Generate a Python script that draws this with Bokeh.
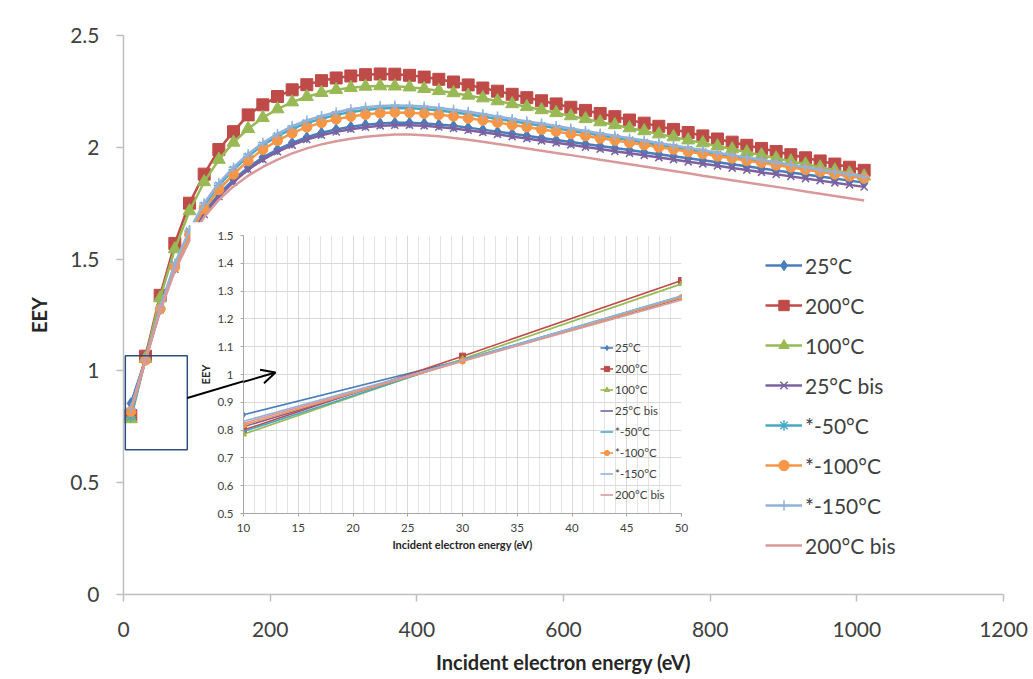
from bokeh.plotting import figure
from bokeh.models import (ColumnDataSource, Legend, LegendItem, FixedTicker,
                          NumeralTickFormatter, BoxAnnotation, Arrow, OpenHead, Range1d)
from bokeh.embed import file_html
from bokeh.resources import INLINE

energy = [10, 30, 50, 70, 90, 110, 130, 150, 170, 190, 210, 230, 250, 270, 290, 310, 330,
          350, 370, 390, 410, 430, 450, 470, 490, 510, 530, 550, 570, 590, 610, 630, 650,
          670, 690, 710, 730, 750, 770, 790, 810, 830, 850, 870, 890, 910, 930, 950, 970,
          990, 1010]

eey_25c = [0.855, 1.052, 1.276, 1.46, 1.60, 1.71, 1.79, 1.855, 1.91, 1.955, 1.99, 2.02, 2.045,
           2.065, 2.08, 2.092, 2.101, 2.107, 2.110, 2.110, 2.107, 2.102, 2.096, 2.088, 2.079,
           2.070, 2.061, 2.052, 2.042, 2.033, 2.024, 2.015, 2.006, 1.997, 1.988, 1.978, 1.969,
           1.960, 1.951, 1.942, 1.933, 1.924, 1.915, 1.905, 1.896, 1.887, 1.878, 1.869, 1.860,
           1.851, 1.842]
eey_200c = [0.80, 1.066, 1.338, 1.57, 1.75, 1.88, 1.99, 2.07, 2.145, 2.19, 2.227, 2.257, 2.28,
            2.298, 2.31, 2.319, 2.325, 2.328, 2.327, 2.322, 2.314, 2.304, 2.292, 2.279, 2.265,
            2.251, 2.237, 2.222, 2.208, 2.194, 2.179, 2.165, 2.151, 2.137, 2.122, 2.108, 2.094,
            2.080, 2.066, 2.051, 2.037, 2.023, 2.009, 1.995, 1.981, 1.967, 1.953, 1.939, 1.925,
            1.911, 1.897]
eey_100c = [0.785, 1.056, 1.326, 1.545, 1.715, 1.845, 1.945, 2.022, 2.083, 2.132, 2.171, 2.202,
            2.226, 2.244, 2.257, 2.266, 2.272, 2.274, 2.273, 2.269, 2.262, 2.253, 2.243, 2.232,
            2.220, 2.207, 2.194, 2.181, 2.167, 2.154, 2.140, 2.127, 2.113, 2.100, 2.086, 2.073,
            2.059, 2.046, 2.032, 2.019, 2.005, 1.992, 1.978, 1.965, 1.951, 1.938, 1.924, 1.911,
            1.897, 1.884, 1.871]
eey_25c_bis = [0.812, 1.05, 1.274, 1.455, 1.595, 1.70, 1.78, 1.845, 1.90, 1.945, 1.98, 2.01,
               2.035, 2.054, 2.069, 2.081, 2.09, 2.096, 2.099, 2.099, 2.096, 2.091, 2.084, 2.076,
               2.067, 2.058, 2.048, 2.039, 2.029, 2.020, 2.011, 2.001, 1.992, 1.982, 1.973, 1.964,
               1.954, 1.945, 1.935, 1.926, 1.917, 1.907, 1.898, 1.888, 1.879, 1.870, 1.860, 1.851,
               1.841, 1.832, 1.823]
eey_m50c = [0.795, 1.052, 1.282, 1.475, 1.625, 1.74, 1.83, 1.90, 1.96, 2.01, 2.05, 2.083, 2.108,
            2.128, 2.145, 2.158, 2.167, 2.173, 2.176, 2.175, 2.171, 2.165, 2.157, 2.148, 2.138,
            2.127, 2.117, 2.106, 2.096, 2.085, 2.074, 2.064, 2.053, 2.043, 2.032, 2.021, 2.011,
            2.000, 1.990, 1.979, 1.968, 1.958, 1.947, 1.937, 1.926, 1.915, 1.905, 1.894, 1.884,
            1.873, 1.862]
eey_m100c = [0.818, 1.048, 1.277, 1.465, 1.61, 1.725, 1.81, 1.88, 1.94, 1.99, 2.03, 2.063, 2.09,
             2.11, 2.126, 2.138, 2.147, 2.153, 2.156, 2.155, 2.151, 2.146, 2.139, 2.130, 2.121,
             2.111, 2.100, 2.091, 2.080, 2.071, 2.060, 2.051, 2.040, 2.031, 2.020, 2.011, 2.000,
             1.991, 1.980, 1.971, 1.960, 1.951, 1.940, 1.931, 1.920, 1.911, 1.900, 1.891, 1.880,
             1.871, 1.861]
eey_m150c = [0.832, 1.05, 1.282, 1.48, 1.63, 1.75, 1.84, 1.91, 1.97, 2.02, 2.06, 2.095, 2.12,
             2.14, 2.157, 2.17, 2.179, 2.185, 2.187, 2.186, 2.182, 2.176, 2.168, 2.159, 2.149,
             2.138, 2.127, 2.116, 2.106, 2.095, 2.084, 2.073, 2.062, 2.052, 2.041, 2.030, 2.019,
             2.008, 1.998, 1.987, 1.976, 1.965, 1.954, 1.944, 1.933, 1.922, 1.911, 1.900, 1.890,
             1.879, 1.868]
eey_200c_bis = [0.825, 1.048, 1.268, 1.448, 1.583, 1.688, 1.765, 1.825, 1.873, 1.912, 1.945,
                1.973, 1.995, 2.013, 2.027, 2.038, 2.047, 2.053, 2.057, 2.057, 2.054, 2.049,
                2.042, 2.034, 2.025, 2.015, 2.005, 1.995, 1.985, 1.975, 1.965, 1.955, 1.944,
                1.934, 1.924, 1.914, 1.904, 1.894, 1.884, 1.873, 1.863, 1.853, 1.843, 1.833,
                1.823, 1.813, 1.802, 1.792, 1.782, 1.772, 1.762]

series_labels = ["25°C", "200°C", "100°C", "25°C bis", "*-50°C", "*-100°C", "*-150°C", "200°C bis"]
series_values = [eey_25c, eey_200c, eey_100c, eey_25c_bis, eey_m50c, eey_m100c, eey_m150c, eey_200c_bis]
colors = ["#4A7EBB", "#BE4B48", "#98B954", "#7D60A0", "#46AAC5", "#F79646", "#93B1DA", "#D9999A"]
markers = ["diamond", "square", "triangle", "x", "asterisk", "circle", "cross", None]
msizes = [11, 12, 13, 10, 10, 10, 10, 0]
inset_markers = ["diamond", "square", "triangle", None, None, "circle", None, None]

x_ticks = [0, 200, 400, 600, 800, 1000, 1200]
y_ticks = [0, 0.5, 1, 1.5, 2, 2.5]
inset_x_ticks = [10, 15, 20, 25, 30, 35, 40, 45, 50]
inset_x_minor = [10, 11, 12, 13, 14, 15, 16, 17, 18, 19, 20, 21, 22, 23, 24, 25, 26, 27, 28,
                 29, 30, 31, 32, 33, 34, 35, 36, 37, 38, 39, 40, 41, 42, 43, 44, 45, 46, 47,
                 48, 49, 50]
inset_y_ticks = [0.5, 0.6, 0.7, 0.8, 0.9, 1.0, 1.1, 1.2, 1.3, 1.4, 1.5]

FONT = "Lato"
TXT = "#404040"

# ---------------- main figure ----------------
p = figure(width=1030, height=676, x_range=Range1d(0, 1200), y_range=Range1d(0, 2.5),
           output_backend="svg", toolbar_location=None,
           min_border_left=123, min_border_right=27, min_border_top=35, min_border_bottom=81)
p.outline_line_color = None
p.grid.visible = False
p.background_fill_color = "white"

for ax in (p.xaxis[0], p.yaxis[0]):
    ax.axis_line_color = "#BFBFBF"
    ax.axis_line_width = 1.5
    ax.major_tick_line_color = "#BFBFBF"
    ax.major_tick_line_width = 1.5
    ax.major_tick_out = 7
    ax.major_tick_in = 0
    ax.minor_tick_line_color = None
    ax.major_label_text_font = FONT
    ax.major_label_text_font_size = "21px"
    ax.major_label_text_color = TXT
    ax.axis_label_text_font = FONT
    ax.axis_label_text_font_size = "20px"
    ax.axis_label_text_font_style = "bold"
    ax.axis_label_text_color = "#262626"

p.xaxis.ticker = FixedTicker(ticks=x_ticks)
p.yaxis.ticker = FixedTicker(ticks=y_ticks)
p.yaxis.formatter = NumeralTickFormatter(format="0.[0]")
p.xaxis.formatter = NumeralTickFormatter(format="0")
p.xaxis.axis_label = "Incident electron energy (eV)"
p.yaxis.axis_label = "EEY"
p.xaxis.major_label_standoff = 20
p.xaxis.axis_label_standoff = 10
p.yaxis.major_label_standoff = 17
p.yaxis.axis_label_standoff = 16

legend_items = []
for lab, vals, col, mk, ms in zip(series_labels, series_values, colors, markers, msizes):
    src = ColumnDataSource(dict(x=energy, y=vals))
    rs = [p.line("x", "y", source=src, line_color=col, line_width=2.5)]
    if mk is not None:
        if mk in ("x", "asterisk", "cross"):
            rs.append(p.scatter("x", "y", source=src, marker=mk, size=ms, line_color=col,
                                line_width=1.5, fill_color=col))
        else:
            rs.append(p.scatter("x", "y", source=src, marker=mk, size=ms, line_color=col,
                                fill_color=col))
    legend_items.append(LegendItem(label=lab, renderers=rs))

legend = Legend(items=legend_items, location=(642, 36), orientation="vertical",
                background_fill_alpha=0, border_line_color=None, padding=0, margin=0,
                glyph_width=37, glyph_height=26, label_height=26, spacing=14,
                label_standoff=3, label_text_font=FONT, label_text_font_size="21px",
                label_text_color=TXT)
p.add_layout(legend)

p.add_layout(BoxAnnotation(left=2.5, right=87, bottom=0.647, top=1.068, fill_alpha=0,
                           line_color="#2E4F7D", line_alpha=1.0, line_width=1.5))
# white backing under the inset chart (the inset hides the curves behind it)
p.add_layout(BoxAnnotation(left=91.4, right=780, bottom=0.165, top=1.665, fill_color="white",
                           fill_alpha=1.0, line_alpha=0))
p.add_layout(Arrow(end=OpenHead(size=14, line_color="black", line_width=2),
                   x_start=87, y_start=0.879, x_end=207, y_end=0.996,
                   line_color="black", line_width=2))

# ---------------- inset figure ----------------
q = figure(width=505, height=336, x_range=Range1d(10, 50), y_range=Range1d(0.5, 1.5),
           output_backend="svg", toolbar_location=None,
           min_border_left=53, min_border_right=14, min_border_top=13, min_border_bottom=45)
q.outline_line_color = None
q.background_fill_color = "white"
q.border_fill_alpha = 0
q.styles = {"position": "absolute", "left": "190px", "top": "222px"}

for ax in (q.xaxis[0], q.yaxis[0]):
    ax.axis_line_color = "#A6A6A6"
    ax.major_tick_line_color = "#A6A6A6"
    ax.major_tick_out = 3
    ax.major_tick_in = 0
    ax.minor_tick_line_color = None
    ax.major_label_text_font = FONT
    ax.major_label_text_font_size = "11.5px"
    ax.major_label_text_color = TXT
    ax.axis_label_text_font = FONT
    ax.axis_label_text_font_size = "11px"
    ax.axis_label_text_font_style = "bold"
    ax.axis_label_text_color = "#262626"

q.xaxis.ticker = FixedTicker(ticks=inset_x_ticks, minor_ticks=inset_x_minor)
q.yaxis.ticker = FixedTicker(ticks=inset_y_ticks)
q.yaxis.formatter = NumeralTickFormatter(format="0.[0]")
q.xaxis.axis_label = "Incident electron energy (eV)"
q.yaxis.axis_label = "EEY"
q.xaxis.major_label_standoff = 6
q.xaxis.axis_label_standoff = 3
q.yaxis.major_label_standoff = 7
q.yaxis.axis_label_standoff = 2
q.xgrid.grid_line_color = "#D9D9D9"
q.xgrid.minor_grid_line_color = "#E3E3E3"
q.ygrid.grid_line_color = "#D9D9D9"

inset_items = []
for lab, vals, col, mk in zip(series_labels, series_values, colors, inset_markers):
    src = ColumnDataSource(dict(x=energy[:3], y=vals[:3]))
    rs = [q.line("x", "y", source=src, line_color=col, line_width=1.6)]
    if mk is not None:
        rs.append(q.scatter("x", "y", source=src, marker=mk, size=6, line_color=col,
                            fill_color=col))
    inset_items.append(LegendItem(label=lab, renderers=rs))

inset_legend = Legend(items=inset_items, location=(357, 12), orientation="vertical",
                      background_fill_alpha=0, border_line_color=None, padding=0, margin=0,
                      glyph_width=13, glyph_height=13, label_height=13, spacing=8,
                      label_standoff=2, label_text_font=FONT, label_text_font_size="11.5px",
                      label_text_color=TXT)
q.add_layout(inset_legend)

q.add_layout(Arrow(end=OpenHead(size=14, line_color="black", line_width=2),
                   x_start=4.79, y_start=0.914, x_end=12.92, y_end=1.007,
                   line_color="black", line_width=2))

open("out.html", "w").write(file_html([p, q], INLINE))
